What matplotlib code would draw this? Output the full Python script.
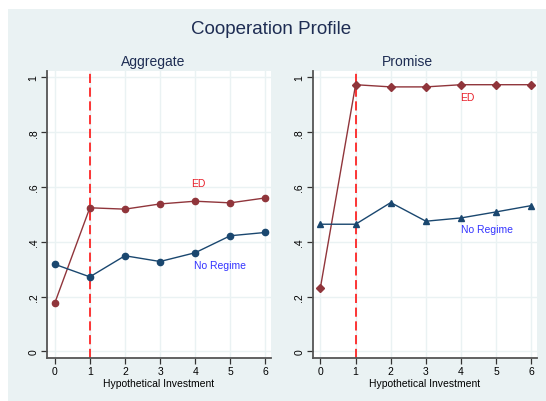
import matplotlib
matplotlib.use("Agg")
import matplotlib.pyplot as plt
from matplotlib.patches import Rectangle

plt.rcParams['font.family'] = ['Liberation Sans', 'DejaVu Sans']

# DATA
investment = [0, 1, 2, 3, 4, 5, 6]
agg_ed = [0.176, 0.524, 0.519, 0.538, 0.548, 0.542, 0.560]
agg_noreg = [0.318, 0.272, 0.349, 0.328, 0.360, 0.422, 0.434]
prom_ed = [0.233, 0.973, 0.965, 0.965, 0.973, 0.973, 0.973]
prom_noreg = [0.464, 0.464, 0.543, 0.475, 0.487, 0.509, 0.532]
yticks = [0, 0.2, 0.4, 0.6, 0.8, 1.0]
yticklabels = ["0", ".2", ".4", ".6", ".8", "1"]

W, H = 546, 402
BG = "#EAF2F3"
ED_COL = "#90353B"
NR_COL = "#1A476F"

fig = plt.figure(figsize=(W / 100, H / 100), dpi=100)
fig.patch.set_facecolor("white")
fig.patches.append(Rectangle((8 / W, 0), 1 - 8 / W, 1 - 10 / H,
                             transform=fig.transFigure, facecolor=BG,
                             edgecolor="none", zorder=-10))


def px_axes(x0, x1, y0, y1):
    return fig.add_axes([x0 / W, 1 - y1 / H, (x1 - x0) / W, (y1 - y0) / H])


def style(ax):
    ax.set_facecolor("white")
    ax.set_xlim(-0.22, 6.16)
    ax.set_ylim(-0.024, 1.023)
    ax.set_xticks(investment)
    ax.set_yticks(yticks)
    ax.set_yticklabels(yticklabels, rotation=90, va="center")
    ax.tick_params(axis="both", direction="out", length=4, width=0.9,
                   color="#333333", labelsize=7.5, pad=2)
    ax.grid(True, color=BG, linewidth=1.0)
    ax.set_axisbelow(True)
    for s in ["top", "right"]:
        ax.spines[s].set_visible(False)
    for s in ["left", "bottom"]:
        ax.spines[s].set_color("#555555")
        ax.spines[s].set_linewidth(1.3)
    ax.set_xlabel("Hypothetical Investment", fontsize=7.5, labelpad=1)
    ax.axvline(1, color="red", linestyle=(0, (6, 3)), linewidth=1.1, zorder=2)


ax1 = px_axes(47, 271, 72, 359)
style(ax1)
ax1.plot(investment, agg_ed, color=ED_COL, marker="o", markersize=4.5, linewidth=1.0, zorder=3)
ax1.plot(investment, agg_noreg, color=NR_COL, marker="o", markersize=4.5, linewidth=1.0, zorder=3)
ax1.text(4.1, 0.615, "ED", color="#E8202A", fontsize=7.5, ha="center", va="center")
ax1.text(4.7, 0.315, "No Regime", color="#3333FF", fontsize=7.5, ha="center", va="center")

ax2 = px_axes(312.7, 537, 72, 359)
style(ax2)
ax2.plot(investment, prom_ed, color=ED_COL, marker="D", markersize=4.5, linewidth=1.0, zorder=3)
ax2.plot(investment, prom_noreg, color=NR_COL, marker="^", markersize=5, linewidth=1.0, zorder=3)
ax2.text(4.17, 0.927, "ED", color="#E8202A", fontsize=7.5, ha="center", va="center")
ax2.text(4.75, 0.446, "No Regime", color="#3333FF", fontsize=7.5, ha="center", va="center")

TITLE_COL = "#1E2D53"
fig.text(270.7 / W, 1 - 30 / H, "Cooperation Profile", fontsize=13.5, color=TITLE_COL,
         ha="center", va="center")
fig.text(153 / W, 1 - 62 / H, "Aggregate", fontsize=10, color=TITLE_COL, ha="center", va="center")
fig.text(407 / W, 1 - 62 / H, "Promise", fontsize=10, color=TITLE_COL, ha="center", va="center")

fig.savefig("out.png", dpi=100)
